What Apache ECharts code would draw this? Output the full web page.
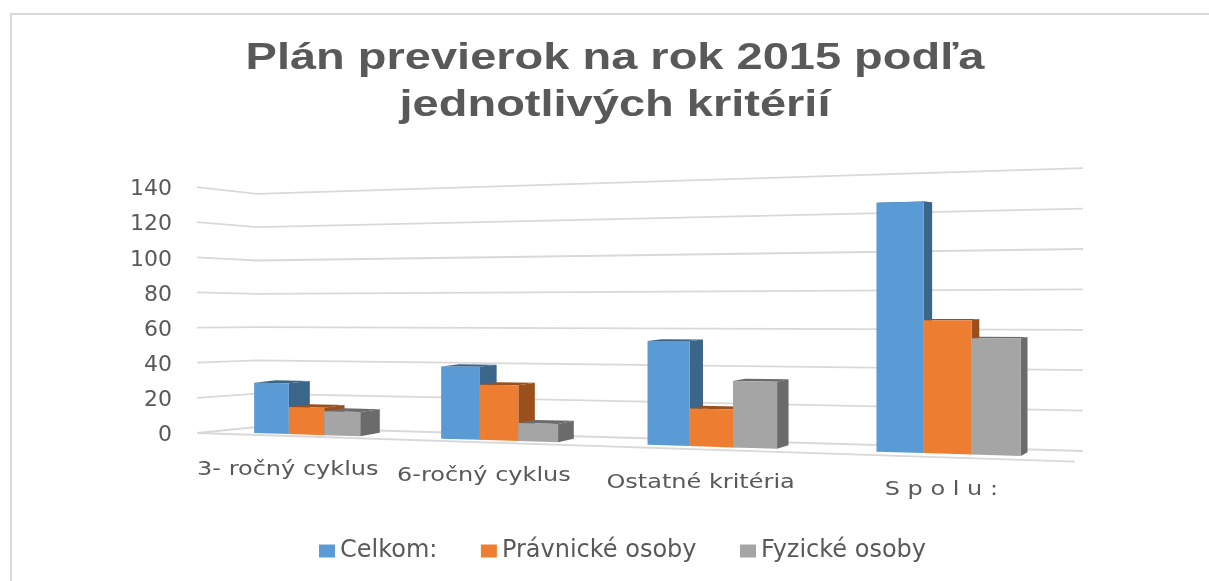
<!DOCTYPE html>
<html><head><meta charset="utf-8">
<style>html,body{margin:0;padding:0;background:#fff}#c{width:1209px;height:581px;filter:blur(0.45px)}</style>
<script src="https://cdn.jsdelivr.net/npm/echarts@6/dist/echarts.min.js"></script>
</head><body><div id="c"></div>
<script>
const categories = ['3- ročný cyklus', '6-ročný cyklus', 'Ostatné kritéria', 'S p o l u :'];
const celkom = [30, 41, 56, 127];
const pravnicke = [16, 31, 20, 67];
const fyzicke = [14, 10, 35, 58];
const yTicks = [0, 20, 40, 60, 80, 100, 120, 140];
const titleText = 'Plán previerok na rok 2015 podľa\njednotlivých kritérií';

const GRID = { left: 197, top: 187, width: 878, height: 246 };
const BAR_FRACTION = 0.193;
const GRID_COLOR = '#d9d9d9';
const TEXT = '#595959';

// Excel-style 3D view: flat grid pixels -> tilted screen pixels
const flatUnit = GRID.height / 140;
const toScreenX = px => { const u = (px - GRID.left) / GRID.width; return (658.6 * u + 217) / (1 - 0.186 * u); };
const floorY = x => 433 + 0.03 * (x - 253);
const heightScale = x => (1.70 + (x - 306) * 0.000456) / flatUnit;
const depthX = x => 26.6 - 0.0195 * x;
const rise = y => (y - 250) * 0.018;
const back = p => [p[0] + depthX(p[0]), p[1] - rise(p[1])];

function barItem(k, front, side, params, api) {
  const cat = api.value(0), val = api.value(1);
  const bw = api.size([1, 0])[0] * BAR_FRACTION;
  const c = api.coord([cat, 0]);
  const h = c[1] - api.coord([cat, val])[1];
  const cx = c[0] + (k - 1) * bw;
  const xl = toScreenX(cx - bw / 2), xr = toScreenX(cx + bw / 2);
  const top = x => floorY(x) - h * heightScale(x);
  const bl = [xl, floorY(xl)], br = [xr, floorY(xr)], tr = [xr, top(xr)], tl = [xl, top(xl)];
  const poly = (points, fill) => ({ type: 'polygon', shape: { points }, style: { fill } });
  return { type: 'group', children: [
    poly([tl, tr, back(tr), back(tl)], side),
    poly([br, tr, back(tr), back(br)], side),
    poly([bl, br, tr, tl], front)
  ] };
}
function barSeries(name, values, k, front, side) {
  return { type: 'custom', name, coordinateSystem: 'cartesian2d', clip: false, z: 3 + k,
    itemStyle: { color: front }, encode: { x: 0, y: 1 },
    data: values.map((v, i) => [i, v]),
    renderItem: (p, api) => barItem(k, front, side, p, api) };
}
function wallItem(params, api) {
  const tick = api.value(0);
  const fl = [197, 433 - tick * 1.757];
  const bl = [257, 427 - tick * 1.665];
  const brr = [1083, 451 - tick * 2.02];
  const style = { stroke: GRID_COLOR, lineWidth: 1.8, fill: 'none' };
  const kids = [{ type: 'polyline', shape: { points: [fl, bl, brr] }, style }];
  if (tick === 0) kids.push({ type: 'polyline', shape: { points: [fl, [1075, 461.7]] }, style });
  return { type: 'group', children: kids };
}
function labelItem(params, api) {
  const i = api.value(0);
  const x = toScreenX(api.coord([i, 0])[0]);
  const lx = x - depthX(x) + 2;
  return { type: 'text', x: lx, y: floorY(lx) + 36, scaleX: 1.2,
    style: { text: categories[i], font: '20px "DejaVu Sans"', fill: TEXT, align: 'center', verticalAlign: 'middle' } };
}

const chart = echarts.init(document.getElementById('c'));
chart.setOption({
  animation: false,
  backgroundColor: '#fff',
  legend: { left: 314, top: 534, data: ['Celkom:', 'Právnické osoby', 'Fyzické osoby'], icon: 'rect',
    itemWidth: 16, itemHeight: 13, itemGap: 43.5,
    textStyle: { fontFamily: 'DejaVu Sans', fontSize: 24, color: TEXT } },
  grid: GRID,
  xAxis: { type: 'category', data: categories, show: false },
  yAxis: { type: 'value', min: 0, max: 140, interval: 20,
    axisLine: { show: false }, axisTick: { show: false }, splitLine: { show: false },
    axisLabel: { margin: 25, formatter: '{t|{value}}',
      rich: { t: { fontFamily: 'DejaVu Sans', fontSize: 22, color: TEXT, padding: [5, 0, 0, 0] } } } },
  graphic: [
    { type: 'polyline', silent: true, shape: { points: [[11, 581], [11, 14], [1209, 14]] },
      style: { stroke: GRID_COLOR, lineWidth: 2.2, fill: 'none' } },
    { type: 'text', silent: true, x: 615, y: 82, scaleX: 1.27,
      style: { text: titleText, font: 'bold 37px "Liberation Sans"', lineHeight: 47, fill: TEXT,
        align: 'center', verticalAlign: 'middle' } }
  ],
  series: [
    { type: 'custom', coordinateSystem: 'cartesian2d', clip: false, z: 1, silent: true,
      data: yTicks.map(t => [t]), encode: { y: 0 }, renderItem: wallItem },
    barSeries('Celkom:', celkom, 0, '#5b9bd5', '#3b6689'),
    barSeries('Právnické osoby', pravnicke, 1, '#ed7d31', '#9a4f1c'),
    barSeries('Fyzické osoby', fyzicke, 2, '#a5a5a5', '#6b6b6b'),
    { type: 'custom', coordinateSystem: 'cartesian2d', clip: false, z: 2, silent: true,
      data: categories.map((c, i) => [i]), encode: { x: 0 }, renderItem: labelItem }
  ]
});
</script></body></html>
